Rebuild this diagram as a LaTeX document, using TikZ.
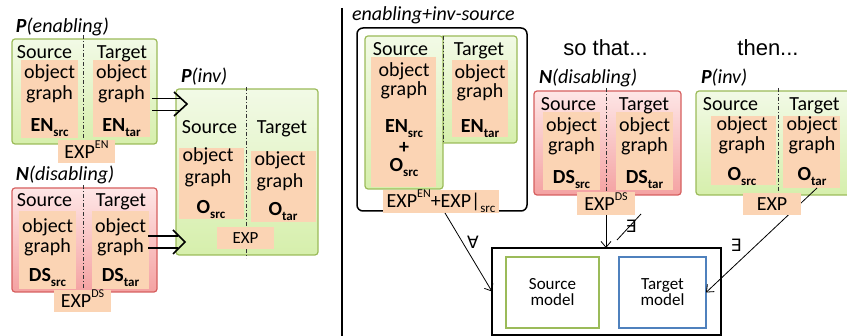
\documentclass[tikz,border=0pt]{standalone}
\usepackage{fontspec}
\setmainfont{Carlito}
\newfontfamily\arialish{Liberation Sans}
\newfontfamily\symf{DejaVu Sans}
\usetikzlibrary{fit,calc,arrows.meta}

\definecolor{grnline}{HTML}{9BBB59}
\definecolor{grntop}{HTML}{F2FAE6}
\definecolor{grnbot}{HTML}{D6EFAC}
\definecolor{redline}{HTML}{D65F5F}
\definecolor{redtop}{HTML}{FEE6E6}
\definecolor{redbot}{HTML}{F4A2A2}
\definecolor{peach}{HTML}{FBD4B4}
\definecolor{blueline}{HTML}{4F81BD}

% small lowered / raised text for indices
\newcommand\subx[1]{\raisebox{-0.22em}{\fontsize{13}{13}\selectfont #1}}
\newcommand\supx[1]{\raisebox{0.5em}{\fontsize{12}{12}\selectfont #1}}

\begin{document}
\begin{tikzpicture}[x=1pt,y=-1pt,
  every node/.style={inner sep=0pt, outer sep=0pt},
  gbox/.style={draw=grnline, line width=1.2pt, rounded corners=3pt, top color=grntop, bottom color=grnbot},
  rbox/.style={draw=redline, line width=1.2pt, rounded corners=3pt, top color=redtop, bottom color=redbot},
  og/.style={fill=peach},
  txt/.style={anchor=base, font=\fontsize{20}{22}\selectfont},
  ttl/.style={anchor=base west, font=\fontsize{20}{22}\selectfont\itshape},
  divl/.style={draw=black!80, line width=0.8pt, dash pattern=on 4pt off 2pt on 1pt off 2pt},
  implies/.style={line width=1.6pt},
  qarrow/.style={line width=0.8pt, -{Straight Barb[length=6pt,width=10pt]}},
  quant/.style={font=\symf\fontsize{17}{19}\selectfont},
]
\useasboundingbox (0,0) rectangle (847,336);
\clip (0,0) rectangle (847,336);

% ---------- P(enabling) ----------
\node[ttl] (ttlA) at (16,33) {\textbf{P}(enabling)};
\node[gbox, fit={(12,39) (157,144)}] (ena) {};
\draw[divl] (83,35) -- (83,139);
\node[og, fit={(21,60) (78,138)}] (ensrc) {};
\node[og, fit={(93,60) (150,137)}] (entar) {};
\node[txt] (a1) at (44.5,59) {Source};
\node[txt] (a2) at (122,59) {Target};
\node[txt] (a3) at (49.5,79) {object};
\node[txt] (a4) at (49.5,100) {graph};
\node[txt] (a5) at (49.5,132) {\textbf{EN}\subx{\textbf{src}}};
\node[txt] (a6) at (121.5,79) {object};
\node[txt] (a7) at (121.5,100) {graph};
\node[txt] (a8) at (121.5,132) {\textbf{EN}\subx{\textbf{tar}}};
\node[og, fit={(58,140) (115,163)}] (expA) {};
\node[txt] (a9) at (expA.center |- 0,159) {EXP\supx{EN}};

% ---------- N(disabling), left ----------
\node[ttl] (ttlC) at (16,181) {\textbf{N}(disabling)};
\node[rbox, fit={(12,188) (157,292)}] (dis) {};
\draw[divl] (83,185) -- (83,289);
\node[og, fit={(19,211) (76,289)}] (dssrc) {};
\node[og, fit={(92,211) (149,289)}] (dstar) {};
\node[txt] (c1) at (44.5,207) {Source};
\node[txt] (c2) at (121,207) {Target};
\node[txt] (c3) at (47.5,232.5) {object};
\node[txt] (c4) at (47.5,252.5) {graph};
\node[txt] (c5) at (47.5,282) {\textbf{DS}\subx{\textbf{src}}};
\node[txt] (c6) at (120.5,232.5) {object};
\node[txt] (c7) at (120.5,252.5) {graph};
\node[txt] (c8) at (120.5,282) {\textbf{DS}\subx{\textbf{tar}}};
\node[og, fit={(54,290) (111,312)}] (expC) {};
\node[txt] (c9) at (expC.center |- 0,308) {EXP\supx{DS}};

% ---------- P(inv), left ----------
\node[ttl] (ttlB) at (181,83) {\textbf{P}(inv)};
\node[gbox, fit={(176,89) (318,255)}] (inv) {};
\draw[divl] (246,87) -- (246,258);
\node[txt] (b1) at (209.5,134) {Source};
\node[txt] (b2) at (282,134) {Target};
\node[og, fit={(179,148) (244,219)}] (osrc) {};
\node[og, fit={(251,151) (316,222)}] (otar) {};
\node[txt] (b3) at (208,162) {object};
\node[txt] (b4) at (208,184) {graph};
\node[txt] (b5) at (211,214) {\textbf{O}\subx{\textbf{src}}};
\node[txt] (b6) at (280,166) {object};
\node[txt] (b7) at (280,188) {graph};
\node[txt] (b8) at (283,216) {\textbf{O}\subx{\textbf{tar}}};
\node[og, fit={(217,227) (274,249)}] (expB) {};
\node[txt, font=\fontsize{17}{20}\selectfont] (b9) at (expB.center |- 0,244) {EXP};

% double arrows into P(inv)
\draw[implies] ($(entar.east)+(2,0)$) -- ($(entar.east)+(30,0)$);
\draw[implies] ($(entar.east)+(2,12)$) -- ($(entar.east)+(30,12)$);
\draw[implies] ($(entar.east)+(24,-6.5)$) -- ($(entar.east)+(37,5.5)$) -- ($(entar.east)+(24,17.5)$);
\draw[implies] ($(dstar.east)+(-1,-14)$) -- ($(dstar.east)+(29,-14)$);
\draw[implies] ($(dstar.east)+(-1,-2)$) -- ($(dstar.east)+(29,-2)$);
\draw[implies] ($(dstar.east)+(24,-20)$) -- ($(dstar.east)+(36,-8)$) -- ($(dstar.east)+(24,4)$);

% separator
\draw[line width=1.2pt] (342,8) -- (342,336);

% ---------- enabling + inv-source ----------
\node[ttl] (ttlD) at (352,21) {enabling+inv-source};
\node[draw, line width=1.5pt, rounded corners=6pt, fit={(357,28) (527,211)}] (grp) {};
\node[gbox, fit={(440,36) (517,143)}] (gtar) {};
\node[gbox, fit={(365,36) (443,189)}] (gsrc) {};
\draw[divl] (443,36) -- (443,143);
\node[og, fit={(371,57) (436,187)}] (esrc) {};
\node[og, fit={(452,60) (508,137)}] (etar) {};
\node[txt] (d1) at (400.5,56) {Source};
\node[txt] (d2) at (479,56) {Target};
\node[txt] (d3) at (404,77) {object};
\node[txt] (d4) at (404,96) {graph};
\node[txt] (d5) at (404,133) {\textbf{EN}\subx{\textbf{src}}};
\node[txt] (d6) at (404,154) {\textbf{+}};
\node[txt] (d7) at (404,172) {\textbf{O}\subx{\textbf{src}}};
\node[txt] (d8) at (480,79) {object};
\node[txt] (d9) at (480,98) {graph};
\node[txt] (d10) at (480,133) {\textbf{EN}\subx{\textbf{tar}}};
\node[og, fit={(383,190) (499,213)}] (expD) {};
\node[txt] (d11) at (expD.center |- 0,208) {EXP\supx{EN}+EXP|\subx{src}};

% ---------- headings ----------
\node[txt, font=\arialish\fontsize{22}{24}\selectfont] (st) at (605.5,56) {so that...};
\node[txt, font=\arialish\fontsize{22}{24}\selectfont] (th) at (768,56) {then...};

% ---------- N(disabling), right ----------
\node[ttl] (ttlE) at (539,84) {\textbf{N}(disabling)};
\node[rbox, fit={(534,91) (681,195)}] (dis2) {};
\draw[divl] (606,88) -- (606,193);
\node[og, fit={(543,112) (600,190)}] (dssrc2) {};
\node[og, fit={(616,112) (673,190)}] (dstar2) {};
\node[txt] (e1) at (568.5,111) {Source};
\node[txt] (e2) at (644,111) {Target};
\node[txt] (e3) at (571.5,132) {object};
\node[txt] (e4) at (571.5,152) {graph};
\node[txt] (e5) at (571.5,184) {\textbf{DS}\subx{\textbf{src}}};
\node[txt] (e6) at (644.5,132) {object};
\node[txt] (e7) at (644.5,152) {graph};
\node[txt] (e8) at (644.5,184) {\textbf{DS}\subx{\textbf{tar}}};
\node[og, fit={(577,192) (635,215)}] (expE) {};
\node[txt] (e9) at (expE.center |- 0,211) {EXP\supx{DS}};

% ---------- P(inv), right ----------
\node[ttl] (ttlF) at (701,84) {\textbf{P}(inv)};
\node[gbox, fit={(696,91) (870,195)}] (inv2) {};
\draw[divl] (778,88) -- (778,193);
\node[og, fit={(711,116) (776,185)}] (osrc2) {};
\node[og, fit={(783,116) (840,188)}] (otar2) {};
\node[txt] (f1) at (730.5,111) {Source};
\node[txt] (f2) at (814.5,111) {Target};
\node[txt] (f3) at (742,131) {object};
\node[txt] (f4) at (742,151) {graph};
\node[txt] (f5) at (742,181) {\textbf{O}\subx{\textbf{src}}};
\node[txt] (f6) at (812,131) {object};
\node[txt] (f7) at (812,151) {graph};
\node[txt] (f8) at (812,181) {\textbf{O}\subx{\textbf{tar}}};

% ---------- models ----------
\node[draw, line width=2pt, fit={(492,248) (721,335)}] (mdl) {};
\node[draw=grnline, line width=1.8pt, fit={(506,257) (599,328)}] (smod) {};
\node[draw=blueline, line width=1.8pt, fit={(619,257) (706,328)}] (tmod) {};
\node[font=\fontsize{17}{16}\selectfont, align=center] (smodt) at (smod.center) {Source\\model};
\node[font=\fontsize{17}{16}\selectfont, align=center] (tmodt) at (tmod.center) {Target\\model};

% exists: P(inv) to the target model (runs under the EXP label)
\draw[qarrow] ($(otar2.south)+(5.5,0)$) -- (tmod.east);
\node[og, fit={(743,193) (801,215)}] (expF) {};
\node[txt] (f9) at (expF.center |- 0,211) {EXP};
\node[quant] (qe) at (736,245) {∃};

% for all: enabling+inv-source to the models
\draw[qarrow] ($(expD.south)+(4,0)$) -- (mdl.west);
\node[quant] (qa) at (473,242) {∀};

% not exists: N(disabling) to the models
\draw[qarrow] (expE.south) -- (expE.south |- mdl.north);
\node[quant] (qn) at (631,226) {∃};
\draw[line width=0.8pt] ($(qn.center)+(-14,14)$) -- ($(qn.center)+(10,-12)$);
\end{tikzpicture}
\end{document}
